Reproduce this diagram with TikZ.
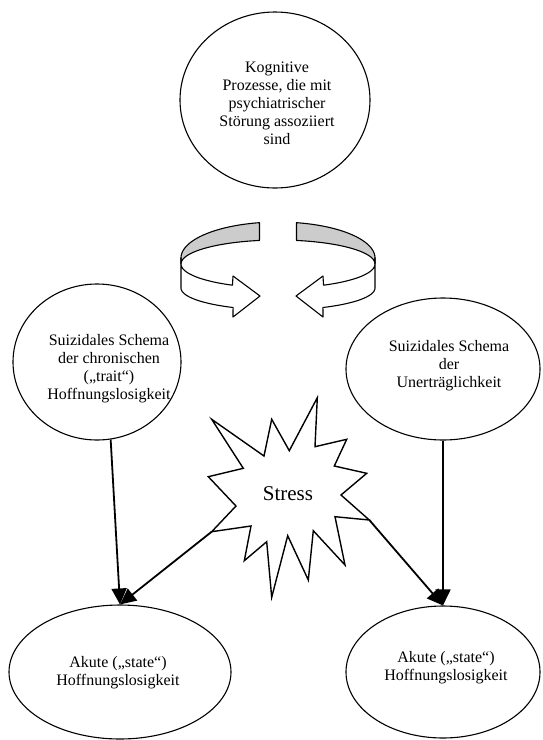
\documentclass[tikz,border=0pt]{standalone}
\usepackage{fontspec}
\setmainfont{Liberation Serif}
\usetikzlibrary{shapes.geometric,arrows.meta}
\begin{document}
\begin{tikzpicture}[x=1pt,y=-1pt,
  ell/.style={ellipse,draw,line width=1.1pt,inner sep=0pt},
  lbl/.style={align=center,font=\fontsize{16}{18}\selectfont,inner sep=0pt},
  conn/.style={line width=1.8pt,-{Triangle[length=16pt,width=15pt]}},
  band/.style={draw,line width=1.1pt,line join=round},
  starshape/.style={draw,line width=1.4pt,fill=white,line join=miter}]
\useasboundingbox (0,0) rectangle (542,740);

% ellipses
\node[ell,minimum width=190pt,minimum height=176pt] (top) at (275,100) {};
\node[lbl] (toptext) at (277,103) {Kognitive\\Prozesse, die mit\\psychiatrischer\\Störung assoziiert\\sind};

\node[ell,minimum width=168pt,minimum height=156pt] (lm) at (97,362) {};
\node[lbl] (lmtext) at (109,369) {Suizidales Schema\\der chronischen\\(„trait“)\\Hoffnungslosigkeit};

\node[ell,minimum width=194pt,minimum height=142pt] (rm) at (443,369) {};
\node[lbl] (rmtext) at (449,366) {Suizidales Schema\\der\\Unerträglichkeit};

\node[ell,minimum width=222pt,minimum height=134pt] (bl) at (120,672) {};
\node[lbl] (bltext) at (118,673) {Akute („state“)\\Hoffnungslosigkeit};

\node[ell,minimum width=194pt,minimum height=132pt] (br) at (443,672) {};
\node[lbl] (brtext) at (446,668) {Akute („state“)\\Hoffnungslosigkeit};

% circular arrows (left)
\draw[band,fill=gray!40] plot[domain=259:180,samples=40] ({278+97*cos(\x)},{258+36*sin(\x)})
  -- plot[domain=180:259,samples=40] ({278+97*cos(\x)},{264+24*sin(\x)}) -- cycle;
\draw[band,fill=white] (181,258) -- plot[domain=180:117.6,samples=40] ({278+97*cos(\x)},{288+22*sin(\x)})
  -- (233,317) -- (260,296) -- (233,276)
  -- plot[domain=118:180,samples=40] ({278+97*cos(\x)},{264+24*sin(\x)}) -- cycle;
% circular arrows (right)
\draw[band,fill=gray!40] plot[domain=259:180,samples=40] ({278-97*cos(\x)},{258+36*sin(\x)})
  -- plot[domain=180:259,samples=40] ({278-97*cos(\x)},{264+24*sin(\x)}) -- cycle;
\draw[band,fill=white] (375,258) -- plot[domain=180:117.6,samples=40] ({278-97*cos(\x)},{288+22*sin(\x)})
  -- (323,317) -- (296,296) -- (323,276)
  -- plot[domain=118:180,samples=40] ({278-97*cos(\x)},{264+24*sin(\x)}) -- cycle;

% stress star
\draw[starshape] (211.7,419.3) -- (264,456) -- (271.7,419.3) -- (289.3,450.7) -- (317.3,397.7)
  -- (315,446.7) -- (346.7,439.3) -- (334.3,466) -- (366.7,473.3) -- (341,495) -- (369.3,520)
  -- (335,516.7) -- (345,565) -- (313.3,530.7) -- (308.3,580) -- (287.7,535.7) -- (271.7,597.3)
  -- (266.7,541.7) -- (244.3,560.7) -- (251,526) -- (211.7,531.7) -- (236,506) -- (208.3,476.7)
  -- (243.3,468.3) -- cycle;
\coordinate (s1) at (211.7,531.7);
\coordinate (s2) at (369.3,520);
\node[inner sep=0pt,font=\fontsize{21}{24}\selectfont] (stress) at (288,494) {Stress};

% connectors
\draw[conn] (lm.-80) -- (bl.north);
\draw[conn] (s1) -- (bl.north);
\draw[conn] (rm.south) -- (br.north);
\draw[conn] (s2) -- (br.north);
\end{tikzpicture}
\end{document}
